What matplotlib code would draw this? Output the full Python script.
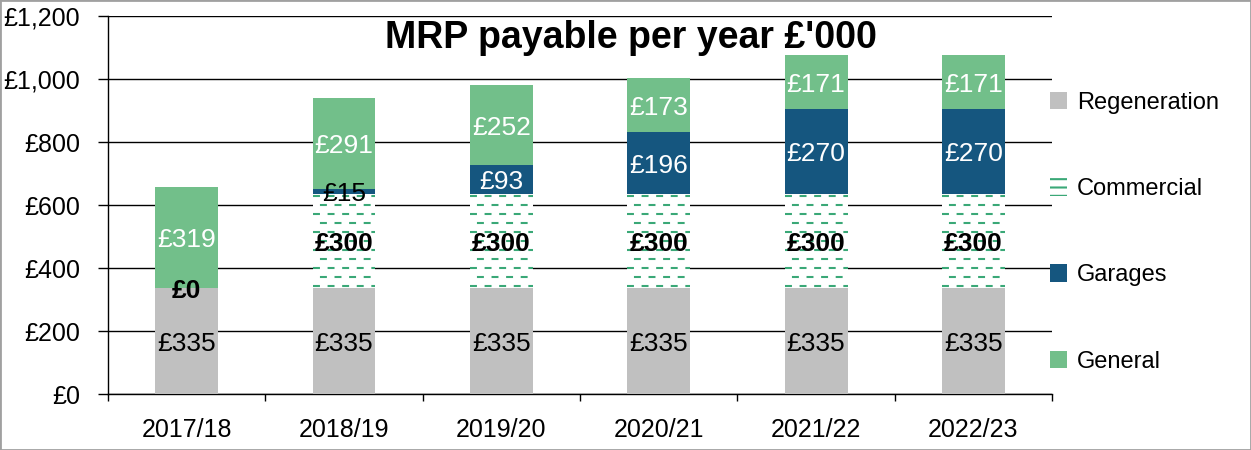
import numpy as np
import matplotlib
matplotlib.use("Agg")
import matplotlib.pyplot as plt
from matplotlib.patches import Patch, Rectangle

plt.rcParams["font.family"] = ["Liberation Sans", "DejaVu Sans"]
plt.rcParams["hatch.color"] = "#3aa877"
plt.rcParams["hatch.linewidth"] = 1.5
plt.rcParams["lines.scale_dashes"] = False

years = ["2017/18", "2018/19", "2019/20", "2020/21", "2021/22", "2022/23"]
regeneration = [335, 335, 335, 335, 335, 335]
commercial = [0, 300, 300, 300, 300, 300]
garages = [2, 15, 93, 196, 270, 270]
general = [319, 291, 252, 173, 171, 171]

c_regen = "#c0c0c0"
c_comm = "#3aa877"
c_gar = "#15567f"
c_gen = "#72bf8a"

fig = plt.figure(figsize=(12.51, 4.5), dpi=100)
ax = fig.add_axes([0.0863, 0.1244, 0.841 - 0.0863, 0.8400])

x = np.arange(len(years))
w = 0.4
regen = np.array(regeneration)
comm = np.array(commercial)
gar = np.array(garages)
gen = np.array(general)

b1 = ax.bar(x, regen, w, color=c_regen, zorder=3)
b2 = ax.bar(x, comm, w, bottom=regen, color="white", zorder=3)
b3 = ax.bar(x, gar, w, bottom=regen + comm, color=c_gar, zorder=3)
b4 = ax.bar(x, gen, w, bottom=regen + comm + gar, color=c_gen, zorder=3)

# dashed horizontal pattern inside the commercial bars
for p in b2.patches:
    if p.get_height() <= 0:
        continue
    x0, x1 = p.get_x(), p.get_x() + p.get_width()
    for i, yy in enumerate(np.arange(p.get_y() + 8, p.get_y() + p.get_height(), 28.5)):
        off = 0 if i % 2 == 0 else 5.5
        ln, = ax.plot([x0, x1], [yy, yy], color=c_comm, lw=1.5,
                      ls=(off, (5.0, 5.5)), zorder=4, solid_capstyle="butt")
        ln.set_clip_path(p)

fs = 19
va = "center_baseline"
for i in range(len(years)):
    ax.text(x[i], regen[i] / 2, f"£{regen[i]}", ha="center", va=va,
            fontsize=fs, color="black", zorder=6)
    ax.text(x[i], regen[i] + comm[i] / 2, f"£{comm[i]}", ha="center", va=va,
            fontsize=fs, fontweight="bold", color="black", zorder=6)
    if gar[i] >= 5:
        col = "white" if gar[i] > 40 else "black"
        ax.text(x[i], regen[i] + comm[i] + gar[i] / 2, f"£{gar[i]}", ha="center",
                va=va, fontsize=fs, color=col, zorder=6)
    ax.text(x[i], regen[i] + comm[i] + gar[i] + gen[i] / 2, f"£{gen[i]}",
            ha="center", va=va, fontsize=fs, color="white", zorder=6)

ax.set_xlim(-0.5, len(years) - 0.5)
ax.set_ylim(0, 1200)
ax.set_yticks(np.arange(0, 1201, 200))
ax.set_yticklabels([f"£{v:,}" for v in range(0, 1201, 200)])
ax.yaxis.grid(True, color="black", lw=1.0, zorder=0)
ax.set_axisbelow(True)
ax.set_xticks(x)
ax.set_xticklabels(years)
ax.set_xticks(np.arange(-0.5, len(years)), minor=True)
ax.tick_params(axis="x", which="major", length=0, pad=17, labelsize=18)
ax.tick_params(axis="x", which="minor", length=5, width=1, direction="out")
ax.tick_params(axis="y", length=7, width=1, pad=13, labelsize=18)
for s in ["top", "right"]:
    ax.spines[s].set_visible(False)
ax.spines["left"].set_linewidth(1.0)
ax.spines["bottom"].set_linewidth(1.0)

fig.text(0.504, 0.915, "MRP payable per year £'000", ha="center", va="center",
         fontsize=27, fontweight="bold")

handles = [
    Patch(facecolor=c_regen, label="Regeneration"),
    Patch(facecolor="white", hatch="--", lw=0, label="Commercial"),
    Patch(facecolor=c_gar, label="Garages"),
    Patch(facecolor=c_gen, label="General"),
]
fig.legend(handles=handles, loc="center left", bbox_to_anchor=(0.822, 0.484),
           frameon=False, fontsize=17, labelspacing=2.72, handlelength=0.75,
           handleheight=0.75, handletextpad=0.4)

fig.patches.append(Rectangle((0, 0), 1, 1, transform=fig.transFigure, fill=False,
                             edgecolor="#a0a0a0", lw=2, zorder=10))

fig.savefig("out.png", dpi=100)
